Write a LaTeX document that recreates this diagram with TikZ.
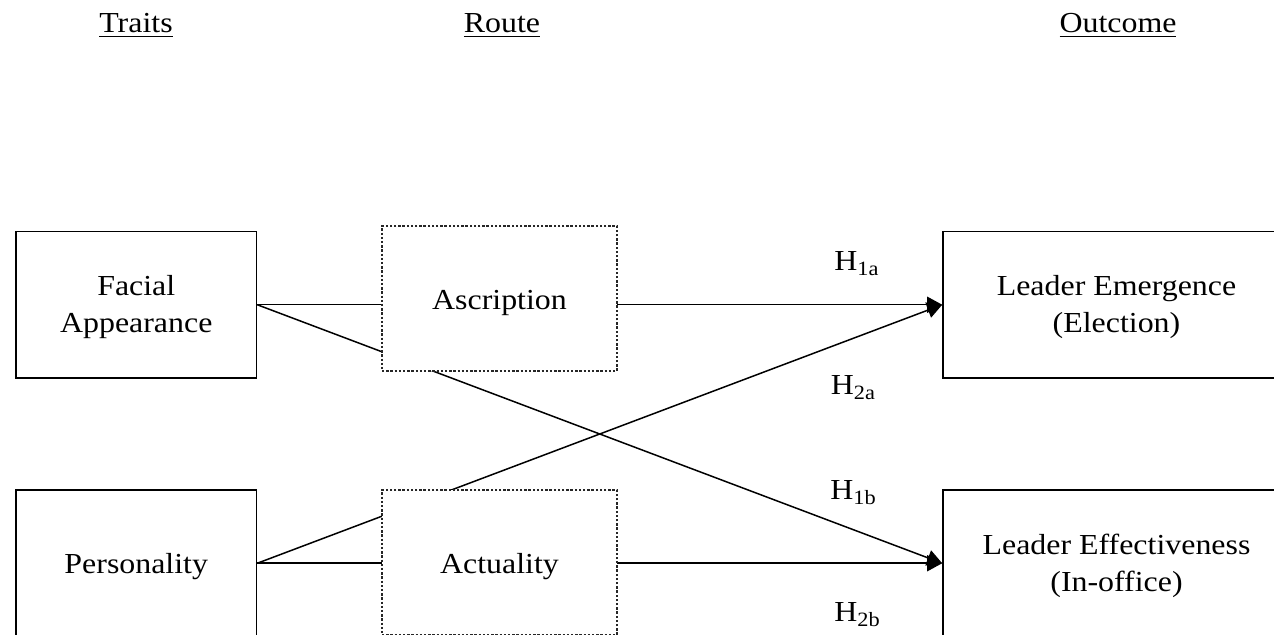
\documentclass[tikz,border=0pt]{standalone}
\usepackage{fontspec}
\setmainfont{Liberation Serif}[FakeStretch=1.1]
\usetikzlibrary{arrows.meta}
\tikzset{
  trait/.style={draw, line width=0.8pt, fill=white, align=center, inner sep=0pt,
    minimum width=120.25pt, minimum height=73.25pt, text height=13.5pt},
  twolines/.style={text height=31pt},
  outcome/.style={trait, twolines, minimum width=173.5pt},
  route/.style={draw=black!85, dash pattern=on 1.2pt off 0.9pt, line width=0.55pt,
    fill=white, inner sep=0pt, minimum width=117.5pt,
    text height=42pt, text depth=30.5pt, anchor=base},
  head/.style={anchor=base},
  hlabel/.style={anchor=base},
  link/.style={line width=0.75pt, -{Triangle[length=7.5pt,width=8pt]}}
}
\begin{document}
\begin{tikzpicture}[x=0.5pt, y=-0.5pt, font=\fontsize{14.5}{18.5}\selectfont]
  \useasboundingbox (0,0) rectangle (1274,635);
  \clip (0,0) rectangle (1274,635);
  % column heads
  \node[head] (traits) at (136,33) {\underline{Traits}};
  \node[head] (route) at (502,33) {\underline{Route}};
  \node[head] (outcome) at (1118,33) {\underline{Outcome}};
  % traits and outcomes
  \node[trait, twolines] (face) at (136.25,304.75) {Facial\\Appearance};
  \node[trait] (pers) at (136.25,563.25) {Personality};
  \node[outcome] (emer) at (1116.5,304.75) {Leader Emergence\\(Election)};
  \node[outcome] (effe) at (1116.5,563.25) {Leader Effectiveness\\(In-office)};
  % paths
  \draw[link] (face.east) -- (emer.west);
  \draw[link] (face.east) -- (effe.west);
  \draw[link] (pers.east) -- (emer.west);
  \draw[link] (pers.east) -- (effe.west);
  % routes, drawn over the paths
  \node[route] (ascr) at (499.5,310) {Ascription};
  \node[route] (actu) at (499.5,574) {Actuality};
  % hypotheses
  \node[hlabel] (h1a) at (857,271) {H\textsubscript{1a}};
  \node[hlabel] (h2a) at (853.5,395) {H\textsubscript{2a}};
  \node[hlabel] (h1b) at (853.5,500) {H\textsubscript{1b}};
  \node[hlabel] (h2b) at (857.5,622) {H\textsubscript{2b}};
\end{tikzpicture}
\end{document}
